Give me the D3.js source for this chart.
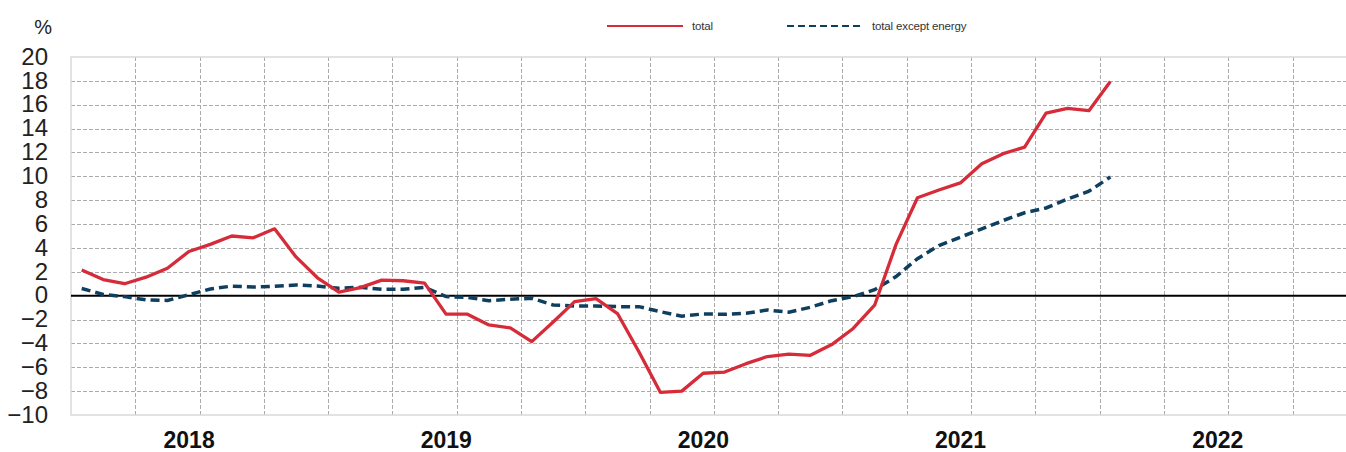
<!DOCTYPE html>
<html>
<head>
<meta charset="utf-8">
<script src="https://cdn.jsdelivr.net/npm/d3@7"></script>
<style>
  html, body { margin: 0; padding: 0; background: #fff; overflow: hidden; }
  svg { display: block; font-family: "Liberation Sans", Arial, sans-serif; }
</style>
</head>
<body>
<svg id="chart" width="1346" height="452"></svg>
<script>
// ---- data (monthly, Jan 2018 – Jan 2022) ----
const years = [2018, 2019, 2020, 2021, 2022];
const yTicks = [-10, -8, -6, -4, -2, 0, 2, 4, 6, 8, 10, 12, 14, 16, 18, 20];
const seriesNames = ["total", "total except energy"];
const total = [
  2.15, 1.35, 1.0, 1.55, 2.3, 3.7, 4.3, 5.0, 4.85, 5.6, 3.25, 1.5,
  0.3, 0.67, 1.3, 1.25, 1.05, -1.55, -1.55, -2.45, -2.7, -3.85, -2.2, -0.5,
  -0.25, -1.5, -4.7, -8.1, -8.0, -6.5, -6.4, -5.7, -5.1, -4.9, -5.0, -4.1,
  -2.75, -0.8, 4.3, 8.2, 8.85, 9.45, 11.05, 11.9, 12.45, 15.3, 15.7, 15.5,
  17.95
];
const exEnergy = [
  0.6, 0.1, -0.08, -0.35, -0.4, 0.08, 0.56, 0.8, 0.72, 0.78, 0.9, 0.8,
  0.62, 0.7, 0.53, 0.53, 0.7, -0.08, -0.14, -0.42, -0.3, -0.22, -0.78, -0.86,
  -0.86, -0.92, -0.92, -1.34, -1.72, -1.53, -1.56, -1.48, -1.2, -1.39, -0.97, -0.42,
  -0.08, 0.5, 1.6, 3.1, 4.2, 4.9, 5.6, 6.3, 6.95, 7.35, 8.1, 8.75,
  9.95
];

(function () {
  const svg = d3.select("#chart");
  const pLeft = 71, pTop = 57, pBottom = 415;
  const monthsShown = 60; // 2018–2022, last year partly cut off
  const pxPerMonth = 21.43;
  const x = d3.scaleLinear().domain([0, monthsShown]).range([pLeft, pLeft + monthsShown * pxPerMonth]);
  const y = d3.scaleLinear().domain([-10, 20]).range([pBottom, pTop]);
  const pRight = x(monthsShown);

  const red = "#d62b38";
  const blue = "#0e3f5e";

  // grid: horizontal
  svg.append("g").selectAll("line")
    .data(yTicks.filter(v => v !== 0 && v !== 20 && v !== -10))
    .join("line")
    .attr("x1", pLeft).attr("x2", pRight)
    .attr("y1", d => Math.round(y(d)) + 0.5).attr("y2", d => Math.round(y(d)) + 0.5)
    .attr("stroke", "#ababab").attr("stroke-width", 1)
    .attr("stroke-dasharray", "4,2");

  // grid: vertical (quarters)
  svg.append("g").selectAll("line")
    .data(d3.range(3, monthsShown, 3))
    .join("line")
    .attr("x1", d => Math.round(x(d)) + 0.5).attr("x2", d => Math.round(x(d)) + 0.5)
    .attr("y1", pTop).attr("y2", pBottom)
    .attr("stroke", "#ababab").attr("stroke-width", 1)
    .attr("stroke-dasharray", "4,2");

  // plot frame
  svg.append("path")
    .attr("d", `M${pRight},${y(20)}H${pLeft}V${y(-10)}H${pRight}`)
    .attr("fill", "none").attr("stroke", "#d9d9d9").attr("stroke-width", 1.5);

  // zero line
  svg.append("line")
    .attr("x1", pLeft).attr("x2", pRight)
    .attr("y1", y(0)).attr("y2", y(0))
    .attr("stroke", "#000").attr("stroke-width", 2);

  // y axis labels
  const yAxis = svg.append("g")
    .attr("transform", `translate(${pLeft},0)`)
    .call(d3.axisLeft(y).tickValues(yTicks).tickSize(0).tickPadding(23).tickFormat(d3.format("d")));
  yAxis.select(".domain").remove();
  yAxis.selectAll("text")
    .attr("font-family", "'Liberation Sans', Arial, sans-serif")
    .attr("font-size", 24).attr("fill", "#222").attr("dy", "0.30em");

  // % label
  svg.append("text").attr("x", 52).attr("y", 34).attr("text-anchor", "end")
    .attr("font-size", 20).attr("fill", "#222").text("%");

  // x axis (year labels)
  const xAxis = svg.append("g")
    .attr("transform", `translate(0,${pBottom})`)
    .call(d3.axisBottom(x).tickValues(years.map((yr, i) => i * 12 + 6)).tickSize(0)
      .tickFormat((d, i) => years[i]));
  xAxis.select(".domain").remove();
  xAxis.selectAll("text")
    .attr("font-family", "'Liberation Sans', Arial, sans-serif")
    .attr("font-size", 23).attr("font-weight", "bold").attr("fill", "#111")
    .attr("x", -11).attr("y", 33).attr("dy", 0);

  // lines
  const line = d3.line().x((d, i) => x(i + 0.5)).y(d => y(d)).curve(d3.curveLinear);
  svg.append("path").datum(exEnergy)
    .attr("d", line).attr("fill", "none")
    .attr("stroke", blue).attr("stroke-width", 3.5)
    .attr("stroke-dasharray", "9,5");
  svg.append("path").datum(total)
    .attr("d", line).attr("fill", "none")
    .attr("stroke", red).attr("stroke-width", 3.3)
    .attr("stroke-linejoin", "round");

  // legend
  const legend = svg.append("g");
  const legendItems = [
    { name: seriesNames[0], color: red, dash: null, x1: 607, x2: 683, tx: 692 },
    { name: seriesNames[1], color: blue, dash: "7,4", x1: 787, x2: 863, tx: 872 }
  ];
  legendItems.forEach(it => {
    legend.append("line").attr("x1", it.x1).attr("x2", it.x2).attr("y1", 26).attr("y2", 26)
      .attr("stroke", it.color).attr("stroke-width", 2.2)
      .attr("stroke-dasharray", it.dash);
    legend.append("text").attr("x", it.tx).attr("y", 30)
      .attr("font-size", 11.5).attr("fill", "#333").attr("letter-spacing", -0.15).text(it.name);
  });
})();
</script>
</body>
</html>
